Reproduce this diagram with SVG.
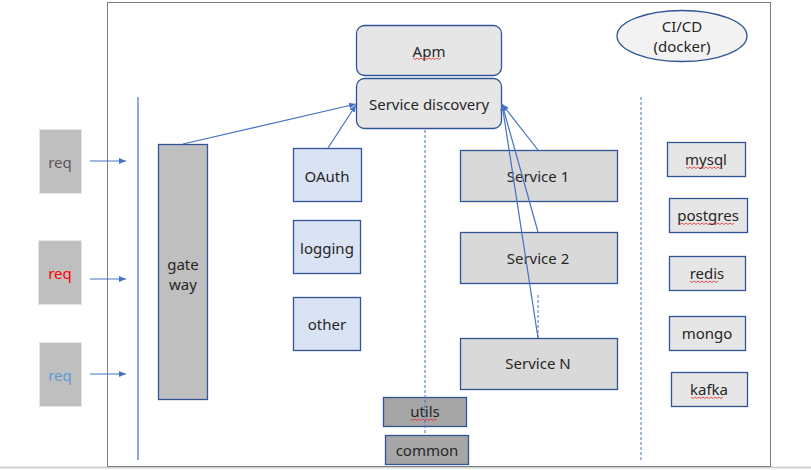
<svg xmlns="http://www.w3.org/2000/svg" width="811" height="470" viewBox="0 0 811 470">
<defs>
<style>
text{font-family:"Noto Sans","Liberation Sans",sans-serif;font-size:15px;fill:#262626;text-anchor:middle;dominant-baseline:central}
.b{stroke:#2f5597;stroke-width:1.3}
.gray{fill:#bfbfbf}
.lg{fill:#e7e6e6}
.blue{fill:#dae3f3}
.svc{fill:#d9d9d9}
.dk{fill:#a6a6a6}
.conn{stroke:#4472c4;stroke-width:1.2;fill:none}
.dash{stroke:#4472c4;stroke-width:1;stroke-dasharray:3 2;fill:none}
.sq{stroke:#e03030;stroke-width:0.8;fill:none}
</style>
<marker id="ah" markerWidth="8" markerHeight="8" refX="7" refY="4" orient="auto" markerUnits="userSpaceOnUse">
<path d="M0,1 L7,4 L0,7 z" fill="#4472c4"/>
</marker>
</defs>
<rect width="811" height="470" fill="#ffffff"/>
<line x1="0" y1="467.5" x2="811" y2="467.5" stroke="#d0d0d0" stroke-width="2"/>
<rect x="107.5" y="2.5" width="663" height="464" fill="none" stroke="#7f7f7f" stroke-width="1"/>
<line x1="138" y1="97" x2="138" y2="460" stroke="#4472c4" stroke-width="1.2"/>
<line x1="641" y1="97" x2="641" y2="460" class="dash"/>
<g id="cicd"><ellipse cx="682" cy="36" rx="65" ry="25.5" fill="#f2f2f2" class="b"/><text x="682" y="26">CI/CD</text><text x="682" y="46">(docker)</text></g>
<g id="req1"><rect x="39.5" y="129.5" width="42" height="64" class="gray" stroke="#e6e6e6"/><text x="60" y="162" style="fill:#595959">req</text></g>
<g id="req2"><rect x="38.5" y="240.5" width="43" height="64" class="gray" stroke="#e6e6e6"/><text x="60" y="273" style="fill:#ff0000">req</text></g>
<g id="req3"><rect x="39.5" y="342.5" width="42" height="64" class="gray" stroke="#e6e6e6"/><text x="60" y="375" style="fill:#5b9bd5">req</text></g>
<g id="gateway"><rect x="158.5" y="144.5" width="49" height="255" class="gray b"/><text x="183" y="264">gate</text><text x="183" y="284">way</text></g>
<g id="apm"><rect x="356.5" y="25.5" width="145" height="50" rx="8" class="lg b"/><text x="429" y="51">Apm</text><path class="sq" d="M413,58 l2,1.5 2,-1.5 2,1.5 2,-1.5 2,1.5 2,-1.5 2,1.5 2,-1.5 2,1.5 2,-1.5 2,1.5 2,-1.5 2,1.5 2,-1.5"/></g>
<g id="discovery"><rect x="356.5" y="78.5" width="145" height="50" rx="8" class="lg b"/><text x="429" y="104">Service discovery</text></g>
<g id="oauth"><rect x="293.5" y="148.5" width="68" height="53" class="blue b"/><text x="327" y="176">OAuth</text></g>
<g id="logging"><rect x="293.5" y="220.5" width="67" height="53" class="blue b"/><text x="327" y="248">logging</text></g>
<g id="other"><rect x="293.5" y="297.5" width="67" height="53" class="blue b"/><text x="327" y="324">other</text></g>
<g id="service1"><rect x="460.5" y="150.5" width="157" height="51" class="svc b"/><text x="538" y="176">Service 1</text></g>
<g id="service2"><rect x="460.5" y="232.5" width="157" height="51" class="svc b"/><text x="538" y="258">Service 2</text></g>
<g id="serviceN"><rect x="460.5" y="338.5" width="157" height="51" class="svc b"/><text x="538" y="363">Service N</text></g>
<g id="utils"><rect x="383.5" y="397.5" width="83" height="29" class="dk b"/><text x="425" y="411">utils</text><path class="sq" d="M411,419 l2,1.5 2,-1.5 2,1.5 2,-1.5 2,1.5 2,-1.5 2,1.5 2,-1.5 2,1.5 2,-1.5 2,1.5 2,-1.5 2,1.5"/></g>
<g id="common"><rect x="385.5" y="435.5" width="83" height="29" class="dk b"/><text x="427" y="450">common</text></g>
<g id="mysql"><rect x="667.5" y="142.5" width="78" height="34" class="lg b"/><text x="706" y="159">mysql</text><path class="sq" d="M686,167 l2,1.5 2,-1.5 2,1.5 2,-1.5 2,1.5 2,-1.5 2,1.5 2,-1.5 2,1.5 2,-1.5 2,1.5 2,-1.5 2,1.5 2,-1.5 2,1.5 2,-1.5 2,1.5 2,-1.5"/></g>
<g id="postgres"><rect x="669.5" y="198.5" width="78" height="34" class="lg b"/><text x="708" y="215">postgres</text><path class="sq" d="M678,223 l2,1.5 2,-1.5 2,1.5 2,-1.5 2,1.5 2,-1.5 2,1.5 2,-1.5 2,1.5 2,-1.5 2,1.5 2,-1.5 2,1.5 2,-1.5 2,1.5 2,-1.5 2,1.5 2,-1.5 2,1.5 2,-1.5 2,1.5 2,-1.5 2,1.5 2,-1.5 2,1.5 2,-1.5 2,1.5 2,-1.5"/></g>
<g id="redis"><rect x="669.5" y="256.5" width="76" height="34" class="lg b"/><text x="707" y="273">redis</text><path class="sq" d="M690,281 l2,1.5 2,-1.5 2,1.5 2,-1.5 2,1.5 2,-1.5 2,1.5 2,-1.5 2,1.5 2,-1.5 2,1.5 2,-1.5 2,1.5 2,-1.5"/></g>
<g id="mongo"><rect x="669.5" y="316.5" width="76" height="34" class="lg b"/><text x="707" y="333">mongo</text></g>
<g id="kafka"><rect x="671.5" y="372.5" width="76" height="34" class="lg b"/><text x="709" y="389">kafka</text><path class="sq" d="M691,397 l2,1.5 2,-1.5 2,1.5 2,-1.5 2,1.5 2,-1.5 2,1.5 2,-1.5 2,1.5 2,-1.5 2,1.5 2,-1.5 2,1.5 2,-1.5 2,1.5 2,-1.5"/></g>
<g id="connectors">
<line x1="90" y1="161" x2="126" y2="161" class="conn" marker-end="url(#ah)"/>
<line x1="90" y1="279" x2="126" y2="279" class="conn" marker-end="url(#ah)"/>
<line x1="90" y1="374" x2="126" y2="374" class="conn" marker-end="url(#ah)"/>
<line x1="183" y1="144" x2="356" y2="104" class="conn" marker-end="url(#ah)"/>
<line x1="328" y1="148" x2="356" y2="105" class="conn" marker-end="url(#ah)"/>
<line x1="538" y1="150" x2="502" y2="104" class="conn" marker-end="url(#ah)"/>
<line x1="538" y1="232" x2="502" y2="104" class="conn" marker-end="url(#ah)"/>
<line x1="538" y1="338" x2="502" y2="104" class="conn" marker-end="url(#ah)"/>
<line x1="425" y1="130" x2="425" y2="435" class="dash"/>
<line x1="538" y1="295" x2="538" y2="338" class="dash"/>
</g>
</svg>
